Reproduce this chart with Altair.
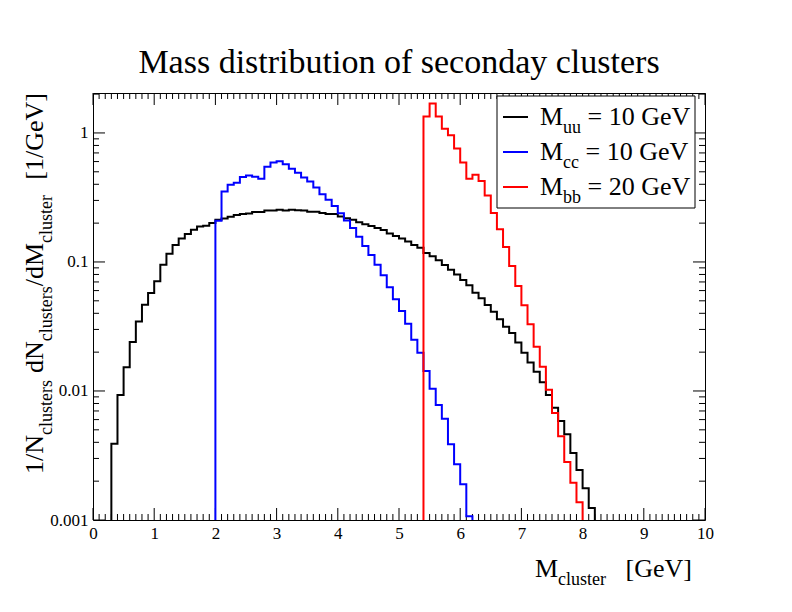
import altair as alt
import pandas as pd

# ---------------- data ----------------
BIN = 0.1
black_start = 0.3
black_vals = [0.0039, 0.0093, 0.0153, 0.024, 0.0345, 0.0467, 0.0575, 0.071, 0.0953, 0.116,
              0.1355, 0.152, 0.165, 0.178, 0.188, 0.191, 0.2006, 0.212, 0.217, 0.2245,
              0.231, 0.2355, 0.237, 0.244, 0.244, 0.25, 0.25, 0.254, 0.25, 0.254,
              0.252, 0.25, 0.245, 0.245, 0.240, 0.235, 0.235, 0.225, 0.218, 0.212,
              0.203, 0.196, 0.19, 0.1835, 0.177, 0.166, 0.159, 0.152, 0.144, 0.1355,
              0.129, 0.1175, 0.1107, 0.103, 0.0948, 0.087, 0.080, 0.0725, 0.066, 0.0578,
              0.0523, 0.0464, 0.0412, 0.036, 0.0315, 0.0282, 0.0238, 0.0198, 0.0166, 0.0141,
              0.0117, 0.0093, 0.00743, 0.00585, 0.00461, 0.0033, 0.00244, 0.00176, 0.00124]
blue_start = 2.0
blue_vals = [0.209, 0.351, 0.397, 0.412, 0.456, 0.467, 0.458, 0.442, 0.548, 0.589,
             0.603, 0.572, 0.529, 0.492, 0.451, 0.42, 0.377, 0.335, 0.303, 0.272,
             0.239, 0.21, 0.1835, 0.157, 0.133, 0.113, 0.0953, 0.0788, 0.0638, 0.0514,
             0.0417, 0.0332, 0.0249, 0.0198, 0.0143, 0.0104, 0.00779, 0.0061, 0.00386, 0.0027,
             0.00189, 0.00107]
red_start = 5.4
red_vals = [1.34, 1.69, 1.34, 1.08, 0.96, 0.756, 0.589, 0.442, 0.475, 0.425,
            0.327, 0.24, 0.179, 0.1306, 0.093, 0.065, 0.0462, 0.0329, 0.022, 0.0154,
            0.0102, 0.00675, 0.00446, 0.00282, 0.00194, 0.00137]

series_labels = [("M", "uu", "= 10 GeV"), ("M", "cc", "= 10 GeV"), ("M", "bb", "= 20 GeV")]
series_colors = ["#000000", "#0000ff", "#ff0000"]

x_major = list(range(0, 11))
y_major = [0.001, 0.01, 0.1, 1]

X_DOMAIN = [0, 10]
Y_DOMAIN = [0.001, 2.04]
FLOOR = 0.0004

SERIF = "Liberation Serif"
W, H = 612, 427
OX, OY = 93, 93  # page position of plot origin

# Times / Liberation Serif advance widths (per 1000 em)
TW = {' ': 250, '/': 278, '1': 500, '0': 500, '2': 500, '[': 333, ']': 333, '=': 564,
      'G': 722, 'e': 444, 'V': 722, 'M': 889, 'N': 722, 'd': 500, 'c': 444, 'l': 278,
      'u': 500, 's': 389, 't': 278, 'r': 333, 'b': 500}


def tw(s, size):
    return sum(TW.get(ch, 500) for ch in s) * size / 1000.0


def hist_df(start, vals):
    rows = [{"x": start, "y": FLOOR, "i": 0}]
    for k, v in enumerate(vals):
        rows.append({"x": round(start + BIN * k, 3), "y": v, "i": k + 1})
    end = round(start + BIN * len(vals), 3)
    rows.append({"x": end, "y": vals[-1], "i": len(vals) + 1})
    rows.append({"x": end, "y": FLOOR, "i": len(vals) + 2})
    return pd.DataFrame(rows)


xscale = alt.Scale(domain=X_DOMAIN, nice=False, zero=False)
yscale = alt.Scale(type="log", domain=Y_DOMAIN, nice=False)
xaxis = alt.Axis(values=x_major, tickSize=0, domain=False, grid=False, title=None,
                 labelFont=SERIF, labelFontSize=17, labelPadding=5, labelFlush=False,
                 labelColor="black", format="d")
yaxis = alt.Axis(values=y_major, tickSize=0, domain=False, grid=False, title=None,
                 labelFont=SERIF, labelFontSize=17, labelPadding=5, labelFlush=False,
                 labelColor="black", format="~g", labelOverlap=False)
X = alt.X("x:Q", scale=xscale, axis=xaxis)
Y = alt.Y("y:Q", scale=yscale, axis=yaxis)

one = pd.DataFrame({"a": [0]})


def txt(s, x, y, size, angle=0, align="left"):
    kw = dict(text=s, font=SERIF, fontSize=size, align=align, baseline="alphabetic", color="black")
    if angle:
        kw["angle"] = angle
    return alt.Chart(one).mark_text(**kw).encode(x=alt.value(x - OX), y=alt.value(y - OY))


layers = []

# ---- ticks (inside the frame, all four sides) ----
x_minor = [round(i * 0.1, 2) for i in range(1, 100) if i % 10 != 0]
y_minor = [m * 10 ** k for k in range(-3, 1) for m in range(2, 10) if m * 10 ** k <= Y_DOMAIN[1]]

xmaj = pd.DataFrame({"x": x_major})
xmin = pd.DataFrame({"x": x_minor})
ymaj = pd.DataFrame({"y": y_major})
ymin = pd.DataFrame({"y": y_minor})

for df, L in [(xmaj, 12), (xmin, 6)]:
    layers.append(alt.Chart(df).mark_rule(color="black", strokeWidth=1).encode(
        x=X, y=alt.value(H), y2=alt.value(H - L)))
    layers.append(alt.Chart(df).mark_rule(color="black", strokeWidth=1).encode(
        x=X, y=alt.value(0), y2=alt.value(L)))
for df, L in [(ymaj, 12), (ymin, 6)]:
    layers.append(alt.Chart(df).mark_rule(color="black", strokeWidth=1).encode(
        y=Y, x=alt.value(0), x2=alt.value(L)))
    layers.append(alt.Chart(df).mark_rule(color="black", strokeWidth=1).encode(
        y=Y, x=alt.value(W), x2=alt.value(W - L)))

# ---- histograms ----
for (start, vals), col in zip([(black_start, black_vals), (blue_start, blue_vals), (red_start, red_vals)],
                              series_colors):
    layers.append(alt.Chart(hist_df(start, vals)).mark_line(
        interpolate="step-after", color=col, strokeWidth=2, clip=True).encode(
        x=X, y=Y, order=alt.Order("i:Q")))

# ---- legend ----
layers.append(alt.Chart(one).mark_rect(fill="white", stroke="black", strokeWidth=1).encode(
    x=alt.value(497 - OX), x2=alt.value(695 - OX), y=alt.value(96 - OY), y2=alt.value(208 - OY)))
row_y = [117, 152, 187]
for (main, sub, rest), col, ry in zip(series_labels, series_colors, row_y):
    layers.append(alt.Chart(one).mark_rule(color=col, strokeWidth=2).encode(
        x=alt.value(503 - OX), x2=alt.value(528 - OX), y=alt.value(ry - OY)))
    x0 = 540
    layers.append(txt(main, x0, ry + 8, 26))
    x1 = x0 + tw(main, 26)
    layers.append(txt(sub, x1, ry + 16, 18))
    x2 = x1 + tw(sub, 18) + tw(" ", 26)
    layers.append(txt(rest, x2, ry + 8, 26))

# ---- title ----
layers.append(txt("Mass distribution of seconday clusters", 399, 73, 34, align="center"))

# ---- x title ----
layers.append(txt("M", 535, 577, 26))
layers.append(txt("cluster", 535 + tw("M", 26), 585, 18))
layers.append(txt("[GeV]", 692, 577, 26, align="right"))

# ---- y title (rotated) ----
XM, XS = 43, 52
pos = 474
for s, is_sub, gap in [("1/N", False, 0), ("clusters", True, 0), ("dN", False, 7),
                       ("clusters", True, 0), ("/dM", False, 0), ("cluster", True, 0)]:
    size = 18 if is_sub else 26
    pos -= gap
    layers.append(txt(s, XS if is_sub else XM, pos, size, angle=270))
    pos -= tw(s, size)
layers.append(txt("[1/GeV]", XM, 93, 26, angle=270, align="right"))

chart = alt.layer(*layers).properties(
    width=W, height=H,
    autosize=alt.AutoSizeParams(type="none"),
    padding={"left": OX - 8, "top": OY - 8, "right": 75, "bottom": 80},
    background="white",
).configure_view(stroke="black", strokeWidth=1)

chart.save("out.html", embed_options={"renderer": "svg", "actions": False})
